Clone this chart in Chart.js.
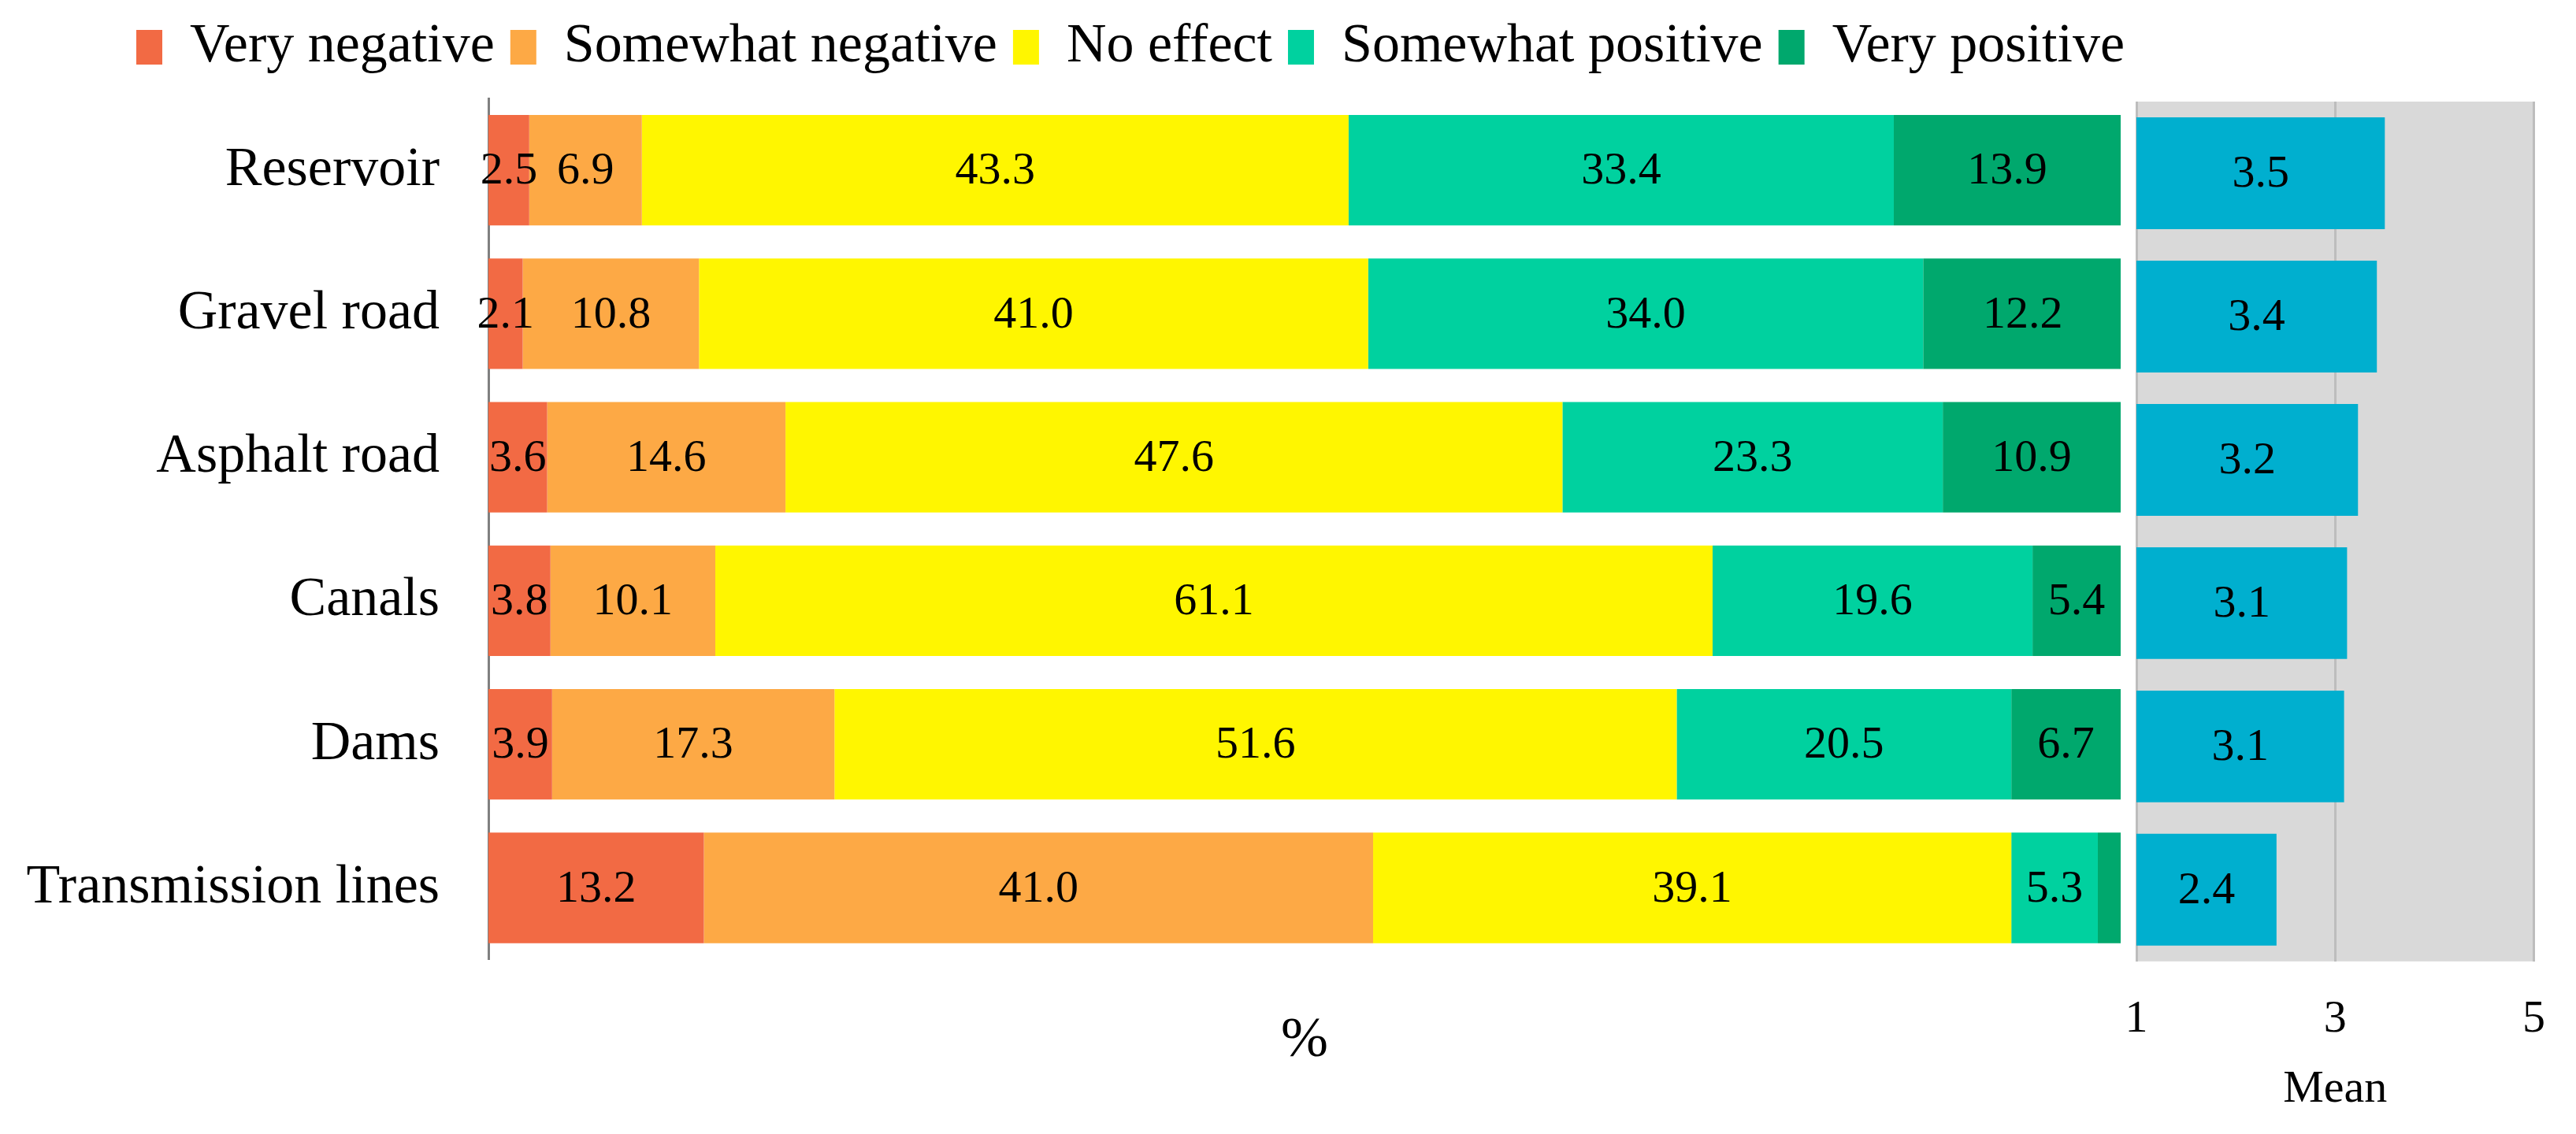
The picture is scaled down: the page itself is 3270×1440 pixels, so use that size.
<!DOCTYPE html>
<html>
<head>
<meta charset="utf-8">
<script src="https://cdn.jsdelivr.net/npm/chart.js@4.4.1/dist/chart.umd.min.js"></script>
<style>
  html, body { margin: 0; padding: 0; background: #fff; }
  body { width: 3270px; height: 1440px; position: relative; overflow: hidden; }
  #wrapPct { position: absolute; left: 0; top: 0; width: 2870px; height: 1440px; }
  #wrapMean { position: absolute; left: 2640px; top: 0; width: 630px; height: 1440px; }
</style>
</head>
<body>
<div id="wrapPct"><canvas id="chartPct"></canvas></div>
<div id="wrapMean"><canvas id="chartMean"></canvas></div>
<script>
// Values (% of respondents per infrastructure type)
const categories = ['Reservoir', 'Gravel road', 'Asphalt road', 'Canals', 'Dams', 'Transmission lines'];
const seriesNames = ['Very negative', 'Somewhat negative', 'No effect', 'Somewhat positive', 'Very positive'];
const veryNegative = [2.5, 2.1, 3.6, 3.8, 3.9, 13.2];
const somewhatNegative = [6.9, 10.8, 14.6, 10.1, 17.3, 41.0];
const noEffect = [43.3, 41.0, 47.6, 61.1, 51.6, 39.1];
const somewhatPositive = [33.4, 34.0, 23.3, 19.6, 20.5, 5.3];
const veryPositive = [13.9, 12.2, 10.9, 5.4, 6.7, 1.4];
// Mean score (1-5 scale), right panel
const meanScore = [3.50, 3.42, 3.23, 3.12, 3.09, 2.41];
const meanTicks = [1, 3, 5];

const seriesValues = [veryNegative, somewhatNegative, noEffect, somewhatPositive, veryPositive];
const seriesColors = ['#F26A44', '#FDA945', '#FFF600', '#00D19F', '#00A86D'];
const meanColor = '#00AFCF';

Chart.defaults.font.family = '"Liberation Serif", "DejaVu Serif", serif';
Chart.defaults.color = '#000';

// Numbers centred in each bar segment
const valueLabels = {
  id: 'valueLabels',
  afterDatasetsDraw(chart) {
    const ctx = chart.ctx;
    const left = chart.chartArea.left;
    ctx.save();
    ctx.font = '58px "Liberation Serif"';
    ctx.fillStyle = '#000';
    ctx.textAlign = 'center';
    ctx.textBaseline = 'middle';
    chart.data.datasets.forEach((ds, i) => {
      chart.getDatasetMeta(i).data.forEach((bar, j) => {
        const v = ds.data[j];
        if (v < 2) return;
        // the mean bars start below the axis minimum, so clamp to the plot edge
        const start = Math.max(bar.base, left);
        ctx.fillText(v.toFixed(1), (bar.x + start) / 2, bar.y + 2);
      });
    });
    ctx.restore();
  }
};

// Grey plot area of the mean panel
const plotBackground = {
  id: 'plotBackground',
  beforeDraw(chart) {
    const { ctx, chartArea: a } = chart;
    ctx.save();
    ctx.fillStyle = '#D9D9D9';
    ctx.fillRect(a.left, a.top, a.width, a.height);
    ctx.restore();
  }
};

new Chart(document.getElementById('chartPct'), {
  type: 'bar',
  data: {
    labels: categories,
    datasets: seriesValues.map((d, i) => ({
      label: seriesNames[i],
      data: d,
      backgroundColor: seriesColors[i],
      borderWidth: 0,
      barPercentage: 0.77,
      categoryPercentage: 1
    }))
  },
  options: {
    indexAxis: 'y',
    responsive: true,
    maintainAspectRatio: false,
    animation: false,
    devicePixelRatio: 1,
    layout: { padding: { top: 5, left: 0, right: 0, bottom: 0 } },
    plugins: {
      legend: {
        position: 'top',
        labels: { font: { size: 70 }, color: '#000', boxWidth: 33, boxHeight: 44, padding: 20 }
      },
      tooltip: { enabled: false }
    },
    scales: {
      x: {
        stacked: true, min: 0, max: 100,
        ticks: { display: false },
        grid: { display: false, drawTicks: false },
        border: { display: false },
        title: { display: true, text: '%', font: { size: 72 }, color: '#000', padding: { top: 60, bottom: 75 } }
      },
      y: {
        stacked: true,
        ticks: { font: { size: 70 }, color: '#000', padding: 62 },
        grid: { display: false, drawTicks: false },
        border: { display: true, color: '#808080', width: 3 },
        afterFit: s => { s.width = 620; }
      },
      // empty spacers so the legend can span the whole width
      xTop: {
        position: 'top', type: 'linear',
        ticks: { display: false }, grid: { display: false, drawTicks: false }, border: { display: false },
        afterFit: s => { s.height = 20; }
      },
      yRight: {
        position: 'right', type: 'linear',
        ticks: { display: false }, grid: { display: false, drawTicks: false }, border: { display: false },
        afterFit: s => { s.width = 178; }
      }
    }
  },
  plugins: [valueLabels]
});

new Chart(document.getElementById('chartMean'), {
  type: 'bar',
  data: {
    labels: categories,
    datasets: [{
      label: 'Mean',
      data: meanScore,
      backgroundColor: meanColor,
      borderWidth: 0,
      barPercentage: 0.78,
      categoryPercentage: 1
    }]
  },
  options: {
    indexAxis: 'y',
    responsive: true,
    maintainAspectRatio: false,
    animation: false,
    devicePixelRatio: 1,
    layout: { padding: { top: 129, left: 72, right: 40, bottom: 0 } },
    plugins: { legend: { display: false }, tooltip: { enabled: false } },
    scales: {
      x: {
        min: meanTicks[0], max: meanTicks[meanTicks.length - 1],
        afterBuildTicks: s => { s.ticks = meanTicks.map(v => ({ value: v })); },
        ticks: { font: { size: 58 }, color: '#000', padding: 39 },
        grid: { color: '#BDBDBD', lineWidth: 3, drawTicks: false },
        border: { display: false },
        title: { display: true, text: 'Mean', font: { size: 58 }, color: '#000', padding: { top: -19, bottom: 21 } }
      },
      y: { display: false }
    }
  },
  plugins: [plotBackground, valueLabels]
});
</script>
</body>
</html>
